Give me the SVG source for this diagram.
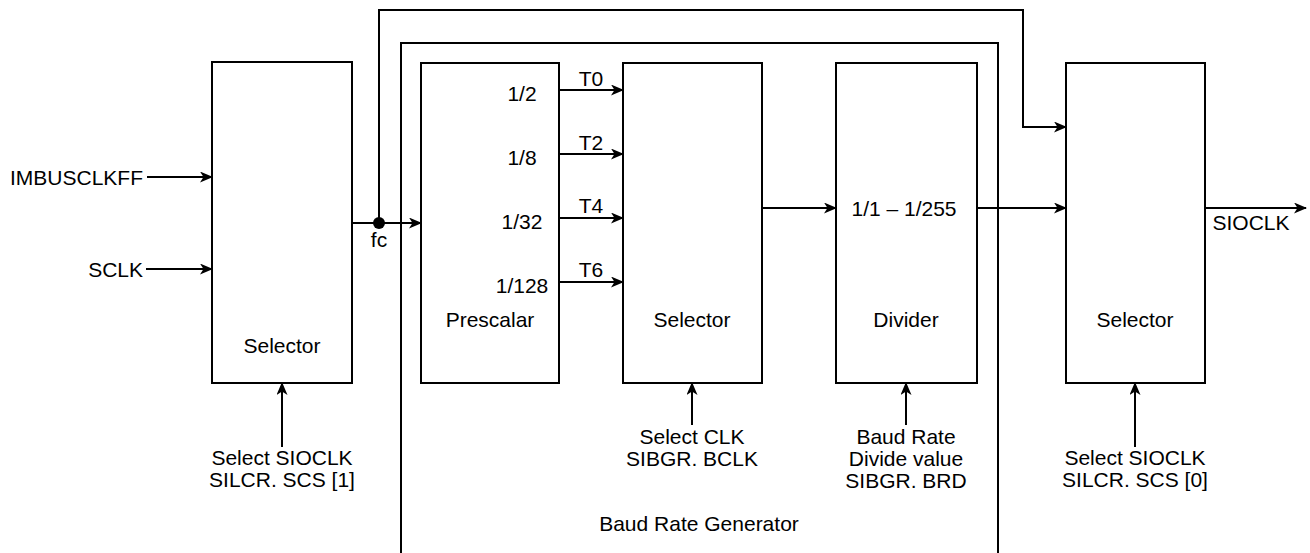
<svg xmlns="http://www.w3.org/2000/svg" width="1310" height="553" viewBox="0 0 1310 553">
<style>
.box{fill:#fff;stroke:#000;stroke-width:2}
.ln{fill:none;stroke:#000;stroke-width:2}
text{font-family:"Liberation Sans",Arial,sans-serif;font-size:21px;fill:#000}
.c{text-anchor:middle}
.e{text-anchor:end}
</style>
<defs>
<marker id="ah" markerWidth="13" markerHeight="11" refX="12" refY="5.5" orient="auto" markerUnits="userSpaceOnUse">
<path d="M0,0 L13,5.5 L0,11 L3.5,5.5 Z" fill="#000"/>
</marker>
</defs>
<g id="baud-rate-generator">
<path class="ln" d="M401,560 L401,43 L998,43 L998,560"/>
<text class="c" x="699" y="531">Baud Rate Generator</text>
</g>
<g id="selector-left">
<rect class="box" x="212" y="62" width="140" height="321"/>
<text class="c" x="282" y="353">Selector</text>
</g>
<g id="prescalar">
<rect class="box" x="421" y="63" width="138" height="320"/>
<text class="c" x="490" y="327">Prescalar</text>
<text class="c" x="522" y="101">1/2</text>
<text class="c" x="522" y="165">1/8</text>
<text class="c" x="522" y="229">1/32</text>
<text class="c" x="522" y="293">1/128</text>
</g>
<g id="selector-mid">
<rect class="box" x="623" y="63" width="139" height="320"/>
<text class="c" x="692" y="327">Selector</text>
</g>
<g id="divider">
<rect class="box" x="836" y="63" width="141" height="320"/>
<text class="c" x="906" y="327">Divider</text>
<text class="c" x="904" y="216">1/1 – 1/255</text>
</g>
<g id="selector-right">
<rect class="box" x="1066" y="63" width="139" height="320"/>
<text class="c" x="1135" y="327">Selector</text>
</g>
<g id="connectors">
<line class="ln" x1="147" y1="177" x2="212" y2="177" marker-end="url(#ah)"/>
<line class="ln" x1="146" y1="269" x2="212" y2="269" marker-end="url(#ah)"/>
<line class="ln" x1="352" y1="223" x2="421" y2="223" marker-end="url(#ah)"/>
<circle cx="379" cy="223" r="6" fill="#000"/>
<path class="ln" d="M379,223 L379,10 L1023,10 L1023,127 L1066,127" marker-end="url(#ah)"/>
<line class="ln" x1="559" y1="90" x2="623" y2="90" marker-end="url(#ah)"/>
<line class="ln" x1="559" y1="154" x2="623" y2="154" marker-end="url(#ah)"/>
<line class="ln" x1="559" y1="218" x2="623" y2="218" marker-end="url(#ah)"/>
<line class="ln" x1="559" y1="282" x2="623" y2="282" marker-end="url(#ah)"/>
<line class="ln" x1="762" y1="208" x2="836" y2="208" marker-end="url(#ah)"/>
<line class="ln" x1="977" y1="208" x2="1066" y2="208" marker-end="url(#ah)"/>
<line class="ln" x1="1205" y1="208" x2="1306" y2="208" marker-end="url(#ah)"/>
<line class="ln" x1="282" y1="447" x2="282" y2="383" marker-end="url(#ah)"/>
<line class="ln" x1="692" y1="425" x2="692" y2="383" marker-end="url(#ah)"/>
<line class="ln" x1="906" y1="425" x2="906" y2="383" marker-end="url(#ah)"/>
<line class="ln" x1="1135" y1="447" x2="1135" y2="383" marker-end="url(#ah)"/>
</g>
<g id="labels">
<text class="e" x="143" y="185">IMBUSCLKFF</text>
<text class="e" x="143" y="277">SCLK</text>
<text class="c" x="379" y="247">fc</text>
<text class="c" x="591" y="86">T0</text>
<text class="c" x="591" y="150">T2</text>
<text class="c" x="591" y="213">T4</text>
<text class="c" x="591" y="277">T6</text>
<text class="c" x="1251" y="230">SIOCLK</text>
<text class="c" x="282" y="465">Select SIOCLK</text>
<text class="c" x="282" y="487">SILCR. SCS [1]</text>
<text class="c" x="692" y="444">Select CLK</text>
<text class="c" x="692" y="466">SIBGR. BCLK</text>
<text class="c" x="906" y="444">Baud Rate</text>
<text class="c" x="906" y="466">Divide value</text>
<text class="c" x="906" y="488">SIBGR. BRD</text>
<text class="c" x="1135" y="465">Select SIOCLK</text>
<text class="c" x="1135" y="487">SILCR. SCS [0]</text>
</g>
</svg>
